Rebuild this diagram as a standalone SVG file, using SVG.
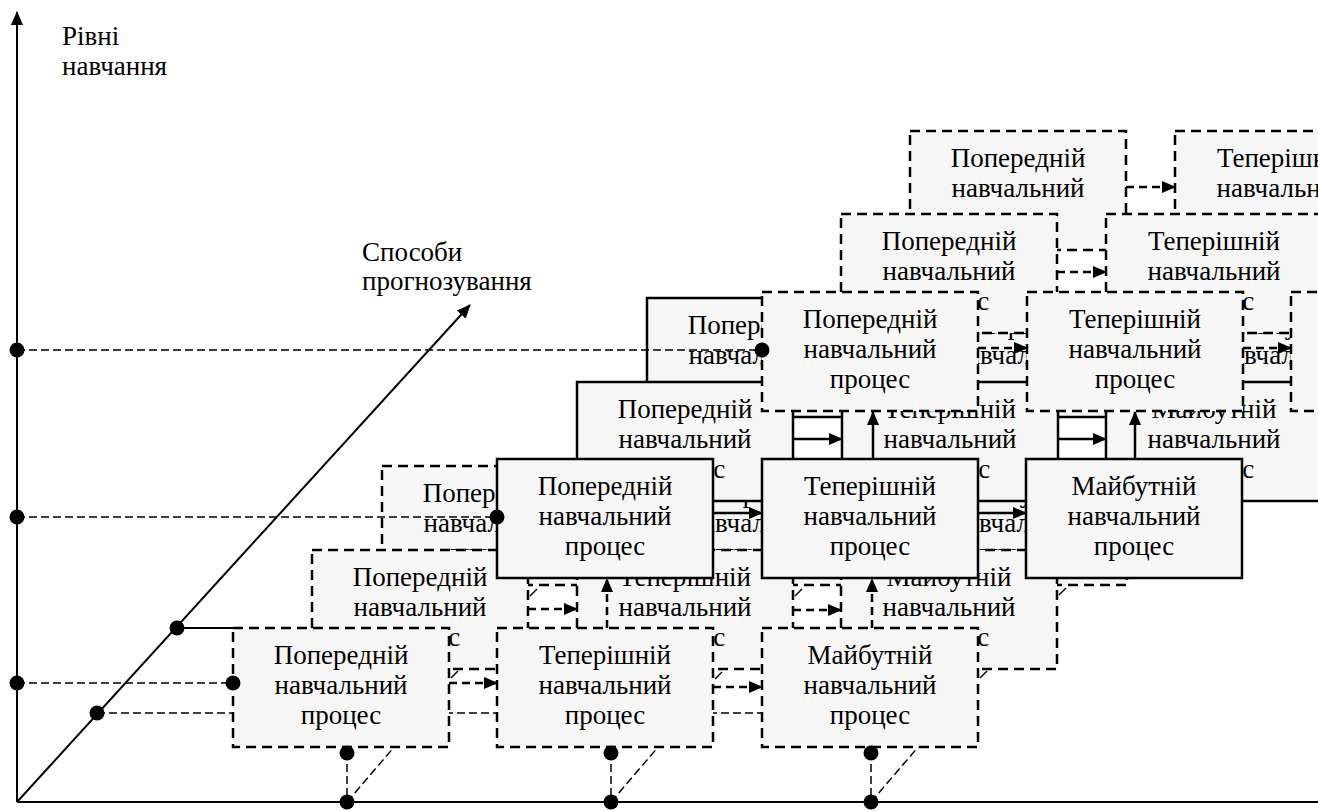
<svg xmlns="http://www.w3.org/2000/svg" width="1318" height="811" viewBox="0 0 1318 811">
<defs>
<marker id="ah" viewBox="0 0 14 12" refX="13" refY="6" markerWidth="14" markerHeight="12" markerUnits="userSpaceOnUse" orient="auto"><path d="M0,0 L14,6 L0,12 z" fill="#000"/></marker>
<style>
.bd{fill:#f6f6f6;stroke:#000;stroke-width:2.5;stroke-dasharray:10 6}
.bs{fill:#f6f6f6;stroke:#000;stroke-width:2.5}
text{font-family:'Liberation Serif','Tinos','DejaVu Serif',serif;font-size:27px;fill:#000}
.t{text-anchor:middle}
.ax{stroke:#000;stroke-width:2;fill:none}
.gl{stroke:#000;stroke-width:1.5;stroke-dasharray:8 4;fill:none}
.tk{stroke:#000;stroke-width:1.5;fill:none}
.cd{stroke:#000;stroke-width:2.5;stroke-dasharray:8 5;fill:none;marker-end:url(#ah)}
.cs{stroke:#000;stroke-width:2.5;fill:none;marker-end:url(#ah)}
.dot{fill:#000}
</style>
</defs>
<rect width="1318" height="811" fill="#fff"/>
<g id="axes">
<line class="ax" x1="17" y1="802" x2="17" y2="12" marker-end="url(#ah)"/>
<line class="ax" x1="17" y1="802" x2="1318" y2="802"/>
<line class="ax" x1="17" y1="802" x2="470" y2="305" marker-end="url(#ah)"/>
<line class="gl" x1="97" y1="713" x2="770" y2="713"/>
<line class="ax" x1="177" y1="628" x2="233" y2="628"/>
<line class="gl" x1="347" y1="802" x2="395" y2="746"/>
<line class="gl" x1="611" y1="802" x2="659" y2="746"/>
<line class="gl" x1="871" y1="802" x2="919" y2="746"/>
<text x="62" y="45">Рівні</text>
<text x="62" y="75">навчання</text>
<text x="362" y="261">Способи</text>
<text x="362" y="290">прогнозування</text>
</g>
<g id="l1r3c1"><rect class="bd" x="382" y="466" width="216" height="119"/><text class="t" x="490" y="502">Попередній</text><text class="t" x="490" y="532">навчальний</text><text class="t" x="490" y="562">процес</text></g>
<g id="l1r3c2"><rect class="bd" x="647" y="466" width="216" height="119"/><text class="t" x="755" y="502">Теперішній</text><text class="t" x="755" y="532">навчальний</text><text class="t" x="755" y="562">процес</text></g>
<g id="l1r3c3"><rect class="bd" x="911" y="466" width="216" height="119"/><text class="t" x="1019" y="502">Майбутній</text><text class="t" x="1019" y="532">навчальний</text><text class="t" x="1019" y="562">процес</text></g>
<g id="l1r2c1"><rect class="bd" x="312" y="550" width="216" height="119"/><text class="t" x="420" y="586">Попередній</text><text class="t" x="420" y="616">навчальний</text><text class="t" x="420" y="646">процес</text></g>
<g id="l1r2c2"><rect class="bd" x="577" y="550" width="216" height="119"/><text class="t" x="685" y="586">Теперішній</text><text class="t" x="685" y="616">навчальний</text><text class="t" x="685" y="646">процес</text></g>
<g id="l1r2c3"><rect class="bd" x="841" y="550" width="216" height="119"/><text class="t" x="949" y="586">Майбутній</text><text class="t" x="949" y="616">навчальний</text><text class="t" x="949" y="646">процес</text></g>
<g id="l1r1c1"><rect class="bd" x="233" y="628" width="216" height="119"/><text class="t" x="341" y="664">Попередній</text><text class="t" x="341" y="694">навчальний</text><text class="t" x="341" y="724">процес</text></g>
<g id="l1r1c2"><rect class="bd" x="497" y="628" width="216" height="119"/><text class="t" x="605" y="664">Теперішній</text><text class="t" x="605" y="694">навчальний</text><text class="t" x="605" y="724">процес</text></g>
<g id="l1r1c3"><rect class="bd" x="762" y="628" width="216" height="119"/><text class="t" x="870" y="664">Майбутній</text><text class="t" x="870" y="694">навчальний</text><text class="t" x="870" y="724">процес</text></g>
<g id="l2r3c1"><rect class="bs" x="647" y="298" width="216" height="119"/><text class="t" x="755" y="334">Попередній</text><text class="t" x="755" y="364">навчальний</text><text class="t" x="755" y="394">процес</text></g>
<g id="l2r3c2"><rect class="bs" x="912" y="298" width="216" height="119"/><text class="t" x="1020" y="334">Теперішній</text><text class="t" x="1020" y="364">навчальний</text><text class="t" x="1020" y="394">процес</text></g>
<g id="l2r3c3"><rect class="bs" x="1176" y="298" width="216" height="119"/><text class="t" x="1284" y="334">Майбутній</text><text class="t" x="1284" y="364">навчальний</text><text class="t" x="1284" y="394">процес</text></g>
<g id="l2r2c1"><rect class="bs" x="577" y="382" width="216" height="119"/><text class="t" x="685" y="418">Попередній</text><text class="t" x="685" y="448">навчальний</text><text class="t" x="685" y="478">процес</text></g>
<g id="l2r2c2"><rect class="bs" x="842" y="382" width="216" height="119"/><text class="t" x="950" y="418">Теперішній</text><text class="t" x="950" y="448">навчальний</text><text class="t" x="950" y="478">процес</text></g>
<g id="l2r2c3"><rect class="bs" x="1106" y="382" width="216" height="119"/><text class="t" x="1214" y="418">Майбутній</text><text class="t" x="1214" y="448">навчальний</text><text class="t" x="1214" y="478">процес</text></g>
<g id="l2r1c1"><rect class="bs" x="497" y="459" width="216" height="119"/><text class="t" x="605" y="495">Попередній</text><text class="t" x="605" y="525">навчальний</text><text class="t" x="605" y="555">процес</text></g>
<g id="l2r1c2"><rect class="bs" x="762" y="459" width="216" height="119"/><text class="t" x="870" y="495">Теперішній</text><text class="t" x="870" y="525">навчальний</text><text class="t" x="870" y="555">процес</text></g>
<g id="l2r1c3"><rect class="bs" x="1026" y="459" width="216" height="119"/><text class="t" x="1134" y="495">Майбутній</text><text class="t" x="1134" y="525">навчальний</text><text class="t" x="1134" y="555">процес</text></g>
<g id="l3r3c1"><rect class="bd" x="910" y="131" width="216" height="119"/><text class="t" x="1018" y="167">Попередній</text><text class="t" x="1018" y="197">навчальний</text><text class="t" x="1018" y="227">процес</text></g>
<g id="l3r3c2"><rect class="bd" x="1175" y="131" width="216" height="119"/><text class="t" x="1283" y="167">Теперішній</text><text class="t" x="1283" y="197">навчальний</text><text class="t" x="1283" y="227">процес</text></g>
<g id="l3r2c1"><rect class="bd" x="841" y="214" width="216" height="119"/><text class="t" x="949" y="250">Попередній</text><text class="t" x="949" y="280">навчальний</text><text class="t" x="949" y="310">процес</text></g>
<g id="l3r2c2"><rect class="bd" x="1106" y="214" width="216" height="119"/><text class="t" x="1214" y="250">Теперішній</text><text class="t" x="1214" y="280">навчальний</text><text class="t" x="1214" y="310">процес</text></g>
<g id="l3r1c1"><rect class="bd" x="762" y="292" width="216" height="119"/><text class="t" x="870" y="328">Попередній</text><text class="t" x="870" y="358">навчальний</text><text class="t" x="870" y="388">процес</text></g>
<g id="l3r1c2"><rect class="bd" x="1027" y="292" width="216" height="119"/><text class="t" x="1135" y="328">Теперішній</text><text class="t" x="1135" y="358">навчальний</text><text class="t" x="1135" y="388">процес</text></g>
<g id="l3r1c3"><rect class="bd" x="1291" y="292" width="216" height="119"/><text class="t" x="1399" y="328">Майбутній</text><text class="t" x="1399" y="358">навчальний</text><text class="t" x="1399" y="388">процес</text></g>
<g id="connectors">
<line class="cd" x1="449" y1="683" x2="497" y2="683"/>
<line class="cd" x1="713" y1="687" x2="762" y2="687"/>
<line class="cd" x1="528" y1="609" x2="577" y2="609"/>
<line class="cd" x1="793" y1="610" x2="841" y2="610"/>
<line class="cs" x1="793" y1="439" x2="842" y2="439"/>
<line class="cs" x1="1058" y1="439" x2="1106" y2="439"/>
<line class="cs" x1="713" y1="513" x2="762" y2="513"/>
<line class="cs" x1="978" y1="513" x2="1026" y2="513"/>
<line class="cd" x1="1126" y1="187" x2="1175" y2="187"/>
<line class="cd" x1="1057" y1="272" x2="1106" y2="272"/>
<line class="cd" x1="978" y1="348" x2="1027" y2="348"/>
<line class="cd" x1="1243" y1="348" x2="1291" y2="348"/>
<line class="cd" x1="607" y1="628" x2="607" y2="579"/>
<line class="cd" x1="872" y1="628" x2="872" y2="579"/>
<line class="cs" x1="873" y1="459" x2="873" y2="412"/>
<line class="cs" x1="1135" y1="459" x2="1135" y2="412"/>
<line class="tk" x1="451" y1="678" x2="458" y2="671"/>
<line class="tk" x1="715" y1="679" x2="722" y2="672"/>
<line class="tk" x1="980" y1="678" x2="987" y2="671"/>
<line class="tk" x1="530" y1="596" x2="537" y2="589"/>
<line class="tk" x1="795" y1="596" x2="802" y2="589"/>
<line class="tk" x1="1059" y1="595" x2="1066" y2="588"/>
</g>
<g id="guides">
<line class="gl" x1="17" y1="683" x2="233" y2="683"/>
<line class="gl" x1="17" y1="517" x2="497" y2="517"/>
<line class="gl" x1="17" y1="350" x2="762" y2="350"/>
<line class="gl" x1="347" y1="752" x2="347" y2="802"/>
<line class="gl" x1="611" y1="752" x2="611" y2="802"/>
<line class="gl" x1="871" y1="752" x2="871" y2="802"/>
<circle class="dot" cx="17" cy="350" r="7.5"/>
<circle class="dot" cx="17" cy="517" r="7.5"/>
<circle class="dot" cx="17" cy="683" r="7.5"/>
<circle class="dot" cx="97" cy="713" r="7.5"/>
<circle class="dot" cx="177" cy="628" r="7.5"/>
<circle class="dot" cx="233" cy="683" r="7.5"/>
<circle class="dot" cx="497" cy="517" r="7.5"/>
<circle class="dot" cx="762" cy="350" r="7.5"/>
<circle class="dot" cx="347" cy="753" r="7.5"/>
<circle class="dot" cx="611" cy="753" r="7.5"/>
<circle class="dot" cx="871" cy="753" r="7.5"/>
<circle class="dot" cx="347" cy="802" r="7.5"/>
<circle class="dot" cx="611" cy="802" r="7.5"/>
<circle class="dot" cx="871" cy="802" r="7.5"/>
</g>
</svg>
